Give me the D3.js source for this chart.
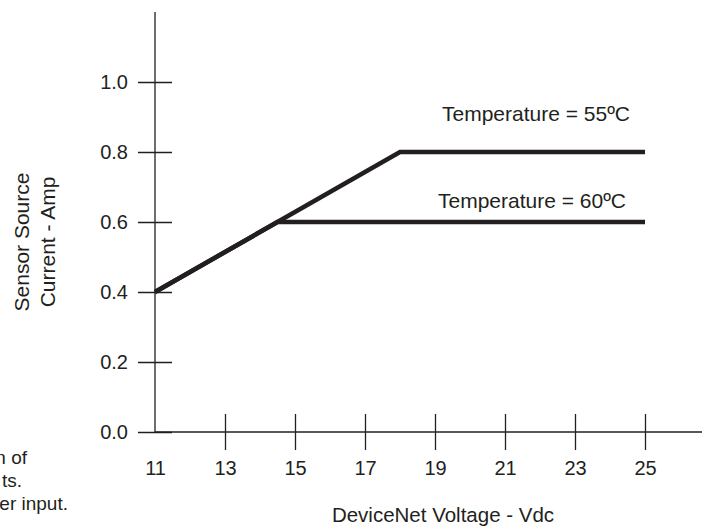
<!DOCTYPE html>
<html>
<head>
<meta charset="utf-8">
<script src="https://cdn.jsdelivr.net/npm/d3@7"></script>
<style>
  body { margin: 0; background: #fff; }
  svg { display: block; font-family: "Liberation Sans", Arial, Helvetica, sans-serif; }
  text { fill: #231f20; }
</style>
</head>
<body>
<div id="graph"></div>
<script>
const svgw = 702
const svgh = 527
const ink = '#231f20'

// data
const xTicks = [11, 13, 15, 17, 19, 21, 23, 25]
const yTicks = [0.0, 0.2, 0.4, 0.6, 0.8, 1.0]
const voltage55 = [11, 18, 25]
const current55 = [0.4, 0.8, 0.8]
const voltage60 = [11, 14.5, 25]
const current60 = [0.4, 0.6, 0.6]
const seriesLabels = ['Temperature = 55ºC', 'Temperature = 60ºC']
const noteLines = ['n of', 'ts.', 'er input.']

const svg = d3.select('#graph')
    .append('svg')
    .attr('width', svgw)
    .attr('height', svgh)

const x = d3.scaleLinear().domain([11, 25]).range([155, 645])
const y = d3.scaleLinear().domain([0, 1]).range([432, 82])

// axis lines
svg.append('line')
    .attr('x1', x(11)).attr('x2', x(11))
    .attr('y1', y(1.2)).attr('y2', y(0))
    .attr('stroke', ink).attr('stroke-width', 1.3)
svg.append('line')
    .attr('x1', x(11)).attr('x2', svgw)
    .attr('y1', y(0)).attr('y2', y(0))
    .attr('stroke', ink).attr('stroke-width', 1.3)

const yAxis = svg.append('g')
    .attr('transform', `translate(${x(11)},0)`)
    .call(d3.axisLeft(y).tickValues(yTicks).tickFormat(d3.format('.1f'))
        .tickSize(17).tickPadding(10))
yAxis.select('.domain').remove()
yAxis.selectAll('.tick line').attr('x1', -17).attr('x2', 17)
    .attr('stroke', ink).attr('stroke-width', 1.3)

const xAxis = svg.append('g')
    .attr('transform', `translate(0,${y(0)})`)
    .call(d3.axisBottom(x).tickValues(xTicks).tickFormat(d3.format('d'))
        .tickSize(18).tickPadding(11))
xAxis.select('.domain').remove()
xAxis.selectAll('.tick line').attr('y1', -18).attr('y2', 18)
    .attr('stroke', ink).attr('stroke-width', 1.3)
xAxis.selectAll('.tick').filter(d => d == 11).select('line').remove()

svg.selectAll('.tick text')
    .attr('font-size', 20)
    .attr('font-family', '"Liberation Sans", Arial, sans-serif')
    .attr('fill', ink)

// series
const line = d3.line().x(d => x(d[0])).y(d => y(d[1]))
const series = [
    d3.zip(voltage55, current55),
    d3.zip(voltage60, current60)
]
svg.selectAll('path.series')
    .data(series)
    .enter()
    .append('path')
    .attr('class', 'series')
    .attr('d', line)
    .attr('fill', 'none')
    .attr('stroke', ink)
    .attr('stroke-width', 4.5)
    .attr('stroke-linejoin', 'miter')

svg.append('text').attr('x', 442).attr('y', 121)
    .attr('font-size', 21)
    .text(seriesLabels[0])
svg.append('text').attr('x', 438).attr('y', 208)
    .attr('font-size', 21)
    .text(seriesLabels[1])

// axis titles
svg.append('text')
    .attr('x', 443).attr('y', 522)
    .attr('text-anchor', 'middle')
    .attr('font-size', 20.5)
    .text('DeviceNet Voltage - Vdc')

svg.append('text')
    .attr('transform', 'translate(29,242) rotate(-90)')
    .attr('text-anchor', 'middle')
    .attr('font-size', 21)
    .text('Sensor Source')
svg.append('text')
    .attr('transform', 'translate(55,242) rotate(-90)')
    .attr('text-anchor', 'middle')
    .attr('font-size', 21)
    .text('Current - Amp')

// cut-off note at bottom left
const noteEnds = [27, 22, 68]
svg.selectAll('text.note')
    .data(noteLines)
    .enter()
    .append('text')
    .attr('class', 'note')
    .attr('x', (d, i) => noteEnds[i])
    .attr('y', (d, i) => 464 + i * 23)
    .attr('text-anchor', 'end')
    .attr('font-size', 19)
    .text(d => d)
</script>
</body>
</html>
